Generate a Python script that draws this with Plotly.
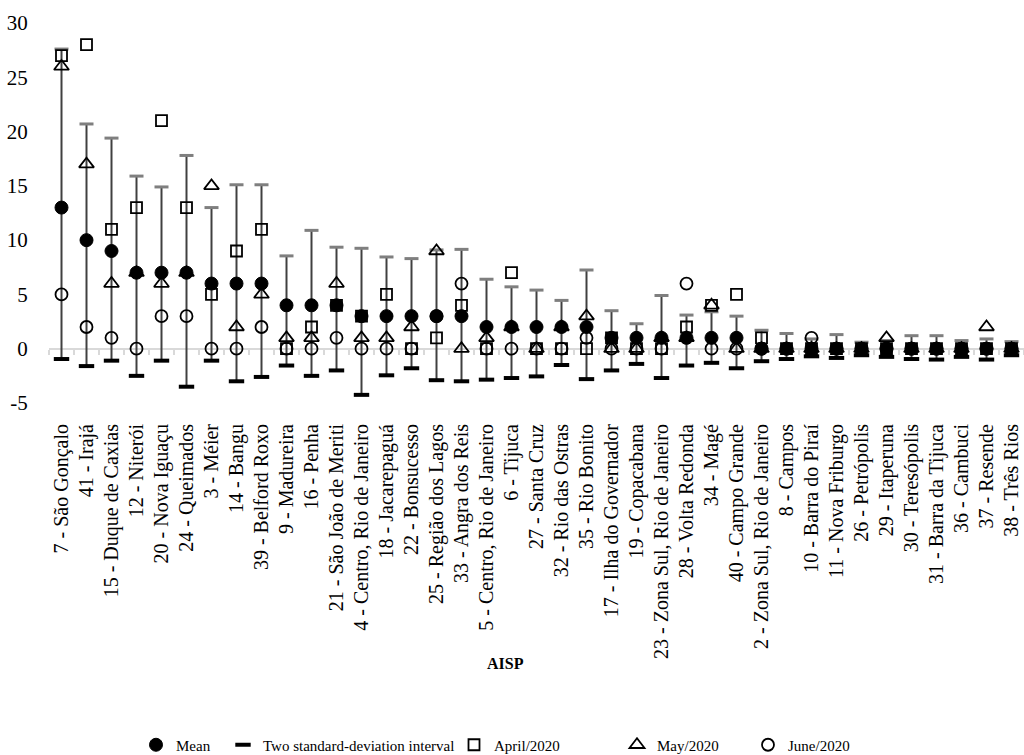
import plotly.graph_objects as go

categories = [
    "7 - São Gonçalo", "41 - Irajá", "15 - Duque de Caxias", "12 - Niterói",
    "20 - Nova Iguaçu", "24 - Queimados", "3 - Méier", "14 - Bangu",
    "39 - Belford Roxo", "9 - Madureira", "16 - Penha", "21 - São João de Meriti",
    "4 - Centro, Rio de Janeiro", "18 - Jacarepaguá", "22 - Bonsucesso",
    "25 - Região dos Lagos", "33 - Angra dos Reis", "5 - Centro, Rio de Janeiro",
    "6 - Tijuca", "27 - Santa Cruz", "32 - Rio das Ostras", "35 - Rio Bonito",
    "17 - Ilha do Governador", "19 - Copacabana", "23 - Zona Sul, Rio de Janeiro",
    "28 - Volta Redonda", "34 - Magé", "40 - Campo Grande",
    "2 - Zona Sul, Rio de Janeiro", "8 - Campos", "10 - Barra do Piraí",
    "11 - Nova Friburgo", "26 - Petrópolis", "29 - Itaperuna", "30 - Teresópolis",
    "31 - Barra da Tijuca", "36 - Cambuci", "37 - Resende", "38 - Três Rios",
]

mean = [13, 10, 9, 7, 7, 7, 6, 6, 6, 4, 4, 4, 3, 3, 3, 3, 3, 2, 2, 2, 2, 2,
        1, 1, 1, 1, 1, 1, 0, 0, 0, 0, 0, 0, 0, 0, 0, 0, 0]

interval_upper = [27.6, 20.7, 19.4, 15.9, 14.9, 17.8, 13.0, 15.1, 15.1, 8.55,
                  10.9, 9.35, 9.25, 8.45, 8.3, 9.1, 9.15, 6.4, 5.7, 5.4, 4.45,
                  7.25, 3.5, 2.3, 4.9, 3.1, 3.4, 3.0, 1.7, 1.4, 0.9, 1.3, 0.6,
                  0.75, 1.2, 1.2, 0.75, 0.9, 0.65]

interval_lower = [-0.95, -1.6, -1.1, -2.5, -1.1, -3.5, -1.1, -3.0, -2.6, -1.55,
                  -2.5, -2.0, -4.25, -2.45, -1.8, -2.9, -3.0, -2.85, -2.7, -2.55,
                  -1.5, -2.8, -2.0, -1.4, -2.7, -1.55, -1.3, -1.8, -1.15, -0.95,
                  -0.7, -0.85, -0.6, -0.75, -0.95, -1.0, -0.75, -1.0, -0.6]

april_2020 = [27, 28, 11, 13, 21, 13, 5, 9, 11, 0, 2, 4, 3, 5, 0, 1, 4, 0, 7, 0,
              0, 0, 1, 0, 0, 2, 4, 5, 1, 0, 0, 0, 0, 0, 0, 0, 0, 0, 0]
may_2020 = [26, 17, 6, 7, 6, 7, 15, 2, 5, 1, 1, 6, 1, 1, 2, 9, 0, 1, 2, 0,
            2, 3, 0, 0, 1, 1, 4, 0, 0, 0, 0, 0, 0, 1, 0, 0, 0, 2, 0]
june_2020 = [5, 2, 1, 0, 3, 3, 0, 0, 2, 0, 0, 1, 0, 0, 0, 3, 6, 0, 0, 0,
             0, 1, 0, 0, 0, 6, 0, 0, 0, 0, 1, 0, 0, 0, 0, 0, 0, 0, 0]

y_tick_vals = [-5, 0, 5, 10, 15, 20, 25, 30]
y_tick_text = ["-5", "0", "5", "10", "15", "20", "25", "30"]

legend_names = ["Mean", "Two standard-deviation interval", "April/2020",
                "May/2020", "June/2020"]
x_title = "AISP"

# ---------------- layout constants ----------------
FONT = "Liberation Serif"
W, H = 1024, 755
ML, MR, MT, MB = 49, 0, 23, 352
PW, PH = W - ML - MR, H - MT - MB


def px_x(px):
    return (px - ML) / PW


def px_y(py):
    return (H - MB - py) / PH


n = len(categories)
err_up = [u - l for u, l in zip(interval_upper, interval_lower)]
err_down = [0 for _ in interval_lower]

fig = go.Figure()

# interval line (from lower bound to upper bound) with black lower dash
fig.add_trace(go.Scatter(
    x=categories, y=interval_lower, mode="markers", name=legend_names[1],
    legend="legend2",
    marker=dict(symbol="line-ew", size=11, color="black",
                line=dict(width=4, color="black")),
    error_y=dict(type="data", symmetric=False, array=err_up,
                 arrayminus=err_down, thickness=2, width=0, color="#404040"),
    hoverinfo="skip",
))
# grey upper cap
fig.add_trace(go.Scatter(
    x=categories, y=interval_upper, mode="markers", showlegend=False,
    marker=dict(symbol="line-ew", size=10, color="#7f7f7f",
                line=dict(width=3, color="#7f7f7f")),
    hoverinfo="skip",
))
fig.add_trace(go.Scatter(
    x=categories, y=april_2020, mode="markers", name=legend_names[2],
    legend="legend3",
    marker=dict(symbol="square-open", size=11, color="black",
                line=dict(width=1.8, color="black")),
))
fig.add_trace(go.Scatter(
    x=categories, y=may_2020, mode="markers", name=legend_names[3],
    legend="legend4",
    marker=dict(symbol="triangle-up-open", size=13, color="black",
                line=dict(width=1.8, color="black")),
))
fig.add_trace(go.Scatter(
    x=categories, y=june_2020, mode="markers", name=legend_names[4],
    legend="legend5",
    marker=dict(symbol="circle-open", size=12, color="black",
                line=dict(width=1.8, color="black")),
))
fig.add_trace(go.Scatter(
    x=categories, y=mean, mode="markers", name=legend_names[0],
    legend="legend",
    marker=dict(symbol="circle", size=13, color="black",
                line=dict(width=1, color="black")),
))
# helper (empty) trace so the boundary-tick axis exists
fig.add_trace(go.Scatter(x=[], y=[], xaxis="x2", yaxis="y", showlegend=False,
                         hoverinfo="skip"))

y_min, y_max = y_tick_vals[0], y_tick_vals[-1]
boundaries = [k - 0.5 for k in range(n + 1)]


def legend_at(left_px):
    return dict(x=left_px / W, xref="container", xanchor="left",
                y=1 - 745 / H, yref="container", yanchor="middle",
                orientation="h", bgcolor="rgba(0,0,0,0)", borderwidth=0,
                itemwidth=30, font=dict(family=FONT, size=15, color="black"))


fig.update_layout(
    width=W, height=H, autosize=False,
    margin=dict(l=ML, r=MR, t=MT, b=MB, pad=0, autoexpand=False),
    paper_bgcolor="white", plot_bgcolor="white",
    font=dict(family=FONT, size=21, color="black"),
    xaxis=dict(type="category", categoryorder="array", categoryarray=categories,
               range=[-0.5, n - 0.5], tickangle=-90, showgrid=False,
               showline=False, zeroline=False, ticks="outside", ticklen=12,
               tickcolor="rgba(0,0,0,0)", automargin=False,
               tickfont=dict(family=FONT, size=20, color="black")),
    xaxis2=dict(overlaying="x", anchor="free",
                position=(0 - y_min) / (y_max - y_min), side="bottom",
                range=[-0.5, n - 0.5], tickmode="array", tickvals=boundaries,
                showticklabels=False, ticks="outside", ticklen=5, tickwidth=1.5,
                tickcolor="#d9d9d9", showgrid=False, showline=False,
                zeroline=False, automargin=False),
    yaxis=dict(range=[y_min, y_max], tickmode="array", tickvals=y_tick_vals,
               ticktext=y_tick_text, showgrid=False, showline=False,
               zeroline=True, zerolinecolor="#d9d9d9", zerolinewidth=1.5,
               ticks="outside", ticklen=16, tickcolor="rgba(0,0,0,0)",
               automargin=False,
               tickfont=dict(family=FONT, size=21, color="black")),
    legend=legend_at(136),
    legend2=legend_at(223),
    legend3=legend_at(454),
    legend4=legend_at(617),
    legend5=legend_at(748),
    annotations=[dict(text="<b>" + x_title + "</b>", xref="paper", yref="paper",
                      x=px_x(505), y=px_y(663), xanchor="center",
                      yanchor="middle", showarrow=False,
                      font=dict(family=FONT, size=16, color="black"))],
)

fig.write_html(
    "out.html",
    config={"displayModeBar": False},
    post_script="document.body.style.margin='0px';"
                "document.body.style.overflow='hidden';",
)
